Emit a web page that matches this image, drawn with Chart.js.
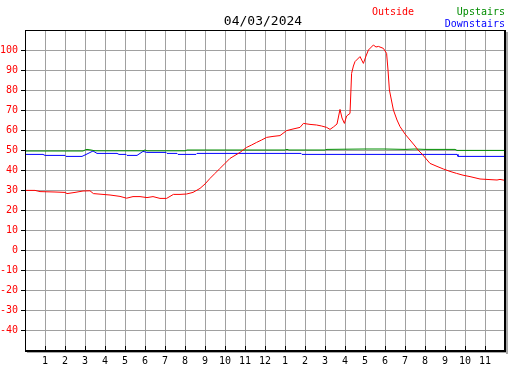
<!DOCTYPE html>
<html><head><meta charset="utf-8">
<script src="https://cdn.jsdelivr.net/npm/chart.js@4/dist/chart.umd.min.js"></script>
<style>html,body{margin:0;padding:0;background:#fff;}canvas{display:block;}</style>
</head><body>
<canvas id="c" width="527" height="370"></canvas>
<script>
const chartTitle = "04/03/2024";
const seriesNames = ["Outside", "Upstairs", "Downstairs"];
const seriesColors = ["#ff0000", "#008c00", "#0000ff"];
const hourTickLabels = ["", "1","2","3","4","5","6","7","8","9","10","11","12","1","2","3","4","5","6","7","8","9","10","11", ""];
const yTickValues = [100,90,80,70,60,50,40,30,20,10,0,-10,-20,-30,-40];

const outsideHours = [0,0.5,0.75,1.5,2.0,2.1,2.5,2.9,3.25,3.42,4.25,4.75,5.08,5.4,5.75,6.1,6.4,6.75,7.08,7.42,7.75,8.08,8.4,8.75,9.0,9.25,9.5,9.75,10.0,10.25,10.5,10.75,11.08,11.33,11.58,11.83,12.08,12.4,12.75,13.08,13.4,13.75,13.92,14.25,14.58,14.83,15.08,15.25,15.42,15.6,15.75,15.85,15.97,16.08,16.25,16.33,16.42,16.5,16.75,16.92,17.05,17.17,17.42,17.55,17.67,17.92,18.08,18.15,18.22,18.42,18.6,18.75,19.0,19.25,19.5,19.65,19.85,20.25,20.6,20.92,21.25,21.58,21.9,22.25,22.75,23.25,23.6,23.75,24.0];
const outsideTemps = [29.8,29.8,29.2,29.0,28.8,28.2,28.8,29.5,29.6,28.2,27.5,26.8,25.9,26.7,26.7,26.2,26.7,25.8,25.8,27.8,27.8,28.0,28.8,30.8,33.0,35.8,38.3,40.8,43.3,45.8,47.3,48.8,51.3,52.5,53.8,55.0,56.3,56.8,57.2,59.7,60.5,61.3,63.3,62.8,62.5,62.0,61.3,60.3,61.5,63.0,70.3,66.0,63.3,67.0,68.3,88.3,92.0,94.2,96.7,93.3,97.0,100.0,102.5,101.5,101.8,100.8,98.3,90.0,80.0,70.0,65.0,61.7,58.0,55.0,52.0,50.0,48.0,43.3,41.8,40.5,39.3,38.3,37.4,36.7,35.5,35.2,35.0,35.3,34.8];

const upstairsHours = [0,2.9,3.0,3.1,3.3,3.5,5.9,6.0,6.1,8.0,8.1,13.0,13.1,13.2,15.0,15.1,17.0,18.0,19.0,19.5,20.0,21.5,21.6,24];
const upstairsTemps = [49.5,49.5,50.0,50.3,50.0,49.6,49.6,50.0,49.6,49.6,50.0,50.0,50.3,50.0,50.0,50.3,50.5,50.5,50.3,50.5,50.3,50.3,49.8,49.8];

const downstairsHours = [0,0.9,1.0,2.0,2.05,2.85,3.1,3.4,3.6,4.6,4.7,5.05,5.1,5.6,5.9,6.1,7.05,7.1,7.6,7.65,8.55,8.6,13.8,13.85,21.6,21.65,24];
const downstairsTemps = [47.8,47.8,47.3,47.3,46.8,46.8,48.0,49.5,48.3,48.3,47.8,47.8,47.3,47.3,49.3,48.8,48.8,48.3,48.3,47.8,47.8,48.3,48.3,47.8,47.8,46.8,46.8];

function pts(xs, ys){ return xs.map((x,i)=>({x:x, y:ys[i]})); }

const MONO = "'DejaVu Sans Mono', monospace";
const GRID = "#a0a0a0";

const framePlugin = {
  id: 'frame',
  afterDraw(chart){
    const ctx = chart.ctx, a = chart.chartArea, xs = chart.scales.x;
    ctx.save();
    // tick marks on bottom axis, pointing up
    ctx.fillStyle = "#000";
    for (let h = 1; h < 24; h++){
      const px = Math.round(xs.getPixelForValue(h));
      ctx.fillRect(px, a.bottom - 4, 1, 4);
    }
    // shadow
    ctx.fillStyle = "#a8a8a8";
    ctx.fillRect(a.right + 1, a.top + 2, 2, a.bottom - a.top + 2);
    ctx.fillRect(a.left + 2, a.bottom + 2, a.right - a.left + 1, 1);
    // frame
    ctx.fillStyle = "#000";
    ctx.fillRect(a.left, a.top, a.right - a.left + 1, 1);
    ctx.fillRect(a.left, a.top, 1, a.bottom - a.top + 2);
    ctx.fillRect(a.right - 1, a.top, 2, a.bottom - a.top + 2);
    ctx.fillRect(a.left, a.bottom, a.right - a.left + 1, 2);
    // title
    ctx.font = "13px " + MONO;
    ctx.textAlign = "center";
    ctx.textBaseline = "alphabetic";
    ctx.fillStyle = "#000";
    ctx.fillText(chartTitle, 263, 25);
    // legend
    ctx.font = "10px " + MONO;
    ctx.textAlign = "left";
    ctx.fillStyle = seriesColors[0];
    ctx.fillText(seriesNames[0], 372, 15);
    ctx.textAlign = "right";
    ctx.fillStyle = seriesColors[1];
    ctx.fillText(seriesNames[1], 505, 15);
    ctx.fillStyle = seriesColors[2];
    ctx.fillText(seriesNames[2], 505, 27);
    ctx.restore();
  }
};

new Chart(document.getElementById('c'), {
  type: 'line',
  data: {
    datasets: [
      {label: seriesNames[0], data: pts(outsideHours, outsideTemps), borderColor: seriesColors[0], order: 0},
      {label: seriesNames[1], data: pts(upstairsHours, upstairsTemps), borderColor: seriesColors[1], order: 1},
      {label: seriesNames[2], data: pts(downstairsHours, downstairsTemps), borderColor: seriesColors[2], order: 2}
    ]
  },
  options: {
    responsive: false,
    animation: false,
    devicePixelRatio: 1,
    parsing: true,
    elements: {
      line: {borderWidth: 1, tension: 0, fill: false},
      point: {radius: 0, hoverRadius: 0}
    },
    layout: {padding: {top: 30, right: 22, left: 0, bottom: 0}},
    plugins: {legend: {display: false}, title: {display: false}, tooltip: {enabled: false}},
    scales: {
      x: {
        type: 'linear', min: 0, max: 24,
        afterBuildTicks: s => { s.ticks = hourTickLabels.map((_, i) => ({value: i})); },
        afterFit: s => { s.height = 20; },
        ticks: {
          autoSkip: false, maxRotation: 0, padding: 5, color: "#000",
          font: {family: MONO, size: 10},
          callback: (v) => hourTickLabels[v]
        },
        grid: {color: GRID, lineWidth: 1, drawTicks: false},
        border: {display: false}
      },
      y: {
        min: -50, max: 110,
        afterBuildTicks: s => { s.ticks = [110].concat(yTickValues, [-50]).map(v => ({value: v})); },
        afterFit: s => { s.width = 25; },
        ticks: {
          color: "#ff0000", padding: 3,
          font: {family: MONO, size: 10},
          callback: (v) => yTickValues.includes(v) ? String(v) : ''
        },
        grid: {
          color: GRID, lineWidth: 1, drawTicks: true, tickLength: 4,
          tickColor: (c) => (c.tick && yTickValues.includes(c.tick.value)) ? "#000" : "rgba(0,0,0,0)"
        },
        border: {display: false}
      }
    }
  },
  plugins: [framePlugin]
});
</script>
</body></html>
